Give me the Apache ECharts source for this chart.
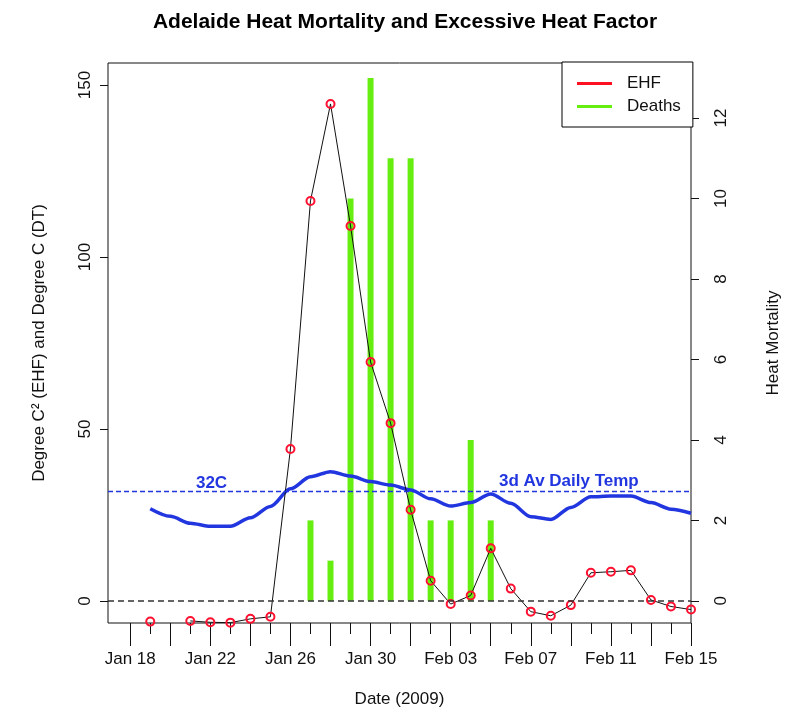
<!DOCTYPE html>
<html>
<head>
    <meta charset="UTF-8">
    <title>Adelaide Heat Mortality and Excessive Heat Factor</title>
    <script src="https://cdn.jsdelivr.net/npm/echarts@6.0.0/dist/echarts.min.js"></script>
    <style>
        html, body { margin: 0; padding: 0; background: #fff; }
        #chart { width: 790px; height: 711px; }
    </style>
</head>
<body>
    <div id="chart"></div>
    <script>
        // daily values, Jan 19 .. Feb 15 2009
        const dates = ['2009-01-19', '2009-01-20', '2009-01-21', '2009-01-22', '2009-01-23', '2009-01-24',
            '2009-01-25', '2009-01-26', '2009-01-27', '2009-01-28', '2009-01-29', '2009-01-30', '2009-01-31',
            '2009-02-01', '2009-02-02', '2009-02-03', '2009-02-04', '2009-02-05', '2009-02-06', '2009-02-07',
            '2009-02-08', '2009-02-09', '2009-02-10', '2009-02-11', '2009-02-12', '2009-02-13', '2009-02-14',
            '2009-02-15'];
        // excess heat factor (Degree C^2), Jan 20 falls off the plot
        const ehf = [-6.0, null, -5.8, -6.2, -6.3, -5.2, -4.6, 44.2, 116.3, 144.5, 109.0, 69.5, 51.7,
            26.5, 5.9, -0.9, 1.6, 15.3, 3.6, -3.1, -4.3, -1.2, 8.2, 8.5, 8.9, 0.3, -1.6, -2.5];
        // 3 day average daily temperature (Degree C)
        const temp3d = [26.8, 24.6, 22.6, 21.7, 21.7, 24.2, 27.5, 32.6, 36.1, 37.6, 36.3, 34.7, 33.7,
            32.3, 29.7, 27.6, 28.6, 31.1, 28.4, 24.5, 23.7, 27.2, 30.3, 30.5, 30.5, 28.6, 26.7, 25.5];
        // heat deaths per day
        const deaths = [0, 0, 0, 0, 0, 0, 0, 0, 2, 1, 10, 13, 11, 11, 2, 2, 4, 2, 0, 0, 0, 0, 0, 0, 0, 0, 0, 0];

        const leftTicks = [0, 50, 100, 150];
        const rightTicks = [0, 2, 4, 6, 8, 10, 12];
        const dayLabels = [18, 22, 26, 30, 34, 38, 42, 46];

        const FONT = '"Liberation Sans", Arial, sans-serif';
        const months = ['Jan', 'Feb'];

        // day of year 2009
        function dayNum(s) {
            const d = new Date(s + 'T00:00:00Z');
            return (d - Date.UTC(2009, 0, 1)) / 86400000 + 1;
        }
        function dayLabel(v) {
            const d = new Date(Date.UTC(2009, 0, 1) + (v - 1) * 86400000);
            const dd = String(d.getUTCDate()).padStart(2, '0');
            return months[d.getUTCMonth()] + ' ' + dd;
        }

        const xs = dates.map(dayNum);
        const majorTicks = [];
        const minorTicks = [];
        for (let d = 18; d <= 46; d++) {
            if (d % 2 === 0) majorTicks.push(d); else minorTicks.push(d);
        }

        const chart = echarts.init(document.getElementById('chart'));
        const option = {
            backgroundColor: '#fff',
            animation: false,
            textStyle: { fontFamily: FONT },
            title: {
                text: 'Adelaide Heat Mortality and Excessive Heat Factor',
                left: 400,
                textAlign: 'center',
                top: 7,
                textStyle: { fontSize: 21, fontWeight: 'bold', color: '#000', fontFamily: FONT }
            },
            legend: {
                orient: 'vertical',
                left: 562,
                top: 62,
                padding: [13, 12, 12, 15],
                itemGap: 6,
                itemWidth: 35,
                itemHeight: 3,
                icon: 'rect',
                backgroundColor: '#fff',
                borderColor: '#000',
                borderWidth: 1,
                borderRadius: 0,
                selectedMode: false,
                textStyle: { fontSize: 17, color: '#111', fontFamily: FONT, padding: [0, 0, 0, 10] },
                data: [
                    { name: 'EHF', itemStyle: { color: '#ff1020', borderWidth: 0 } },
                    { name: 'Deaths', itemStyle: { color: '#66ee11', borderWidth: 0 } }
                ]
            },
            grid: {
                left: 108, right: 99, top: 63, bottom: 88,
                outerBoundsMode: 'none',
                containLabel: false,
                show: true, borderColor: '#111', borderWidth: 1, backgroundColor: 'transparent'
            },
            xAxis: [{
                type: 'value',
                min: 16.89, max: 46,
                position: 'bottom',
                name: 'Date (2009)',
                nameLocation: 'middle',
                nameGap: 68,
                nameTextStyle: { fontSize: 17, color: '#111' },
                axisLine: { show: false, onZero: false },
                splitLine: { show: false },
                axisTick: { show: true, customValues: majorTicks, length: 23, lineStyle: { color: '#111' } },
                axisLabel: {
                    customValues: dayLabels, formatter: dayLabel, margin: 28,
                    fontSize: 17, color: '#111'
                }
            }, {
                type: 'value',
                min: 16.89, max: 46,
                position: 'bottom',
                axisLine: { show: false, onZero: false },
                splitLine: { show: false },
                axisTick: { show: true, customValues: minorTicks, length: 11, lineStyle: { color: '#111' } },
                axisLabel: { show: false }
            }],
            yAxis: [{
                type: 'value',
                min: -6.4, max: 156.4,
                position: 'left',
                name: 'Degree C² (EHF) and Degree C (DT)',
                nameLocation: 'middle',
                nameRotate: 90,
                nameGap: 60,
                nameTextStyle: { fontSize: 17, color: '#111' },
                axisLine: { show: false, onZero: false },
                splitLine: { show: false },
                axisTick: { show: true, customValues: leftTicks, length: 8, lineStyle: { color: '#111' } },
                axisLabel: { customValues: leftTicks, rotate: 90, margin: 14, fontSize: 17, color: '#111' }
            }, {
                type: 'value',
                min: -0.55, max: 13.37,
                position: 'right',
                name: 'Heat Mortality',
                nameLocation: 'middle',
                nameRotate: 90,
                nameGap: 74,
                nameTextStyle: { fontSize: 17, color: '#111' },
                axisLine: { show: false, onZero: false },
                splitLine: { show: false },
                axisTick: { show: true, customValues: rightTicks, length: 8, lineStyle: { color: '#111' } },
                axisLabel: { customValues: rightTicks, rotate: 90, margin: 22, fontSize: 17, color: '#111' }
            }],
            series: [{
                name: 'Deaths',
                type: 'bar',
                xAxisIndex: 0,
                yAxisIndex: 1,
                barWidth: 6,
                itemStyle: { color: '#66ee11' },
                data: xs.map((x, i) => [x, deaths[i]]),
                z: 1
            }, {
                name: 'Temp',
                type: 'line',
                xAxisIndex: 0,
                yAxisIndex: 0,
                showSymbol: false,
                smooth: 0.3,
                smoothMonotone: 'x',
                lineStyle: { color: '#2236e0', width: 3.5 },
                data: xs.map((x, i) => [x, temp3d[i]]),
                markLine: {
                    silent: true,
                    symbol: 'none',
                    label: { show: false },
                    lineStyle: { color: '#2236e0', type: [5, 3], width: 1.3 },
                    data: [{ yAxis: 32 }]
                },
                markPoint: {
                    silent: true,
                    symbol: 'circle',
                    symbolSize: 1,
                    itemStyle: { color: 'transparent' },
                    label: {
                        show: true, position: 'inside', color: '#2236e0',
                        fontSize: 17, fontWeight: 'bold', fontFamily: FONT,
                        formatter: p => p.name
                    },
                    data: [
                        { name: '32C', coord: [22.06, 34.3] },
                        { name: '3d Av Daily Temp', coord: [39.9, 34.9] }
                    ]
                },
                z: 2
            }, {
                name: 'EHF',
                type: 'line',
                xAxisIndex: 0,
                yAxisIndex: 0,
                symbol: 'circle',
                symbolSize: 8,
                connectNulls: false,
                lineStyle: { color: '#111', width: 1 },
                itemStyle: { color: 'transparent', borderColor: '#ff1030', borderWidth: 2 },
                data: xs.map((x, i) => [x, ehf[i]]),
                markLine: {
                    silent: true,
                    symbol: 'none',
                    label: { show: false },
                    lineStyle: { color: '#333', type: [6, 4], width: 1.5 },
                    data: [{ yAxis: 0 }]
                },
                z: 3
            }]
        };
        chart.setOption(option);
    </script>
</body>
</html>
